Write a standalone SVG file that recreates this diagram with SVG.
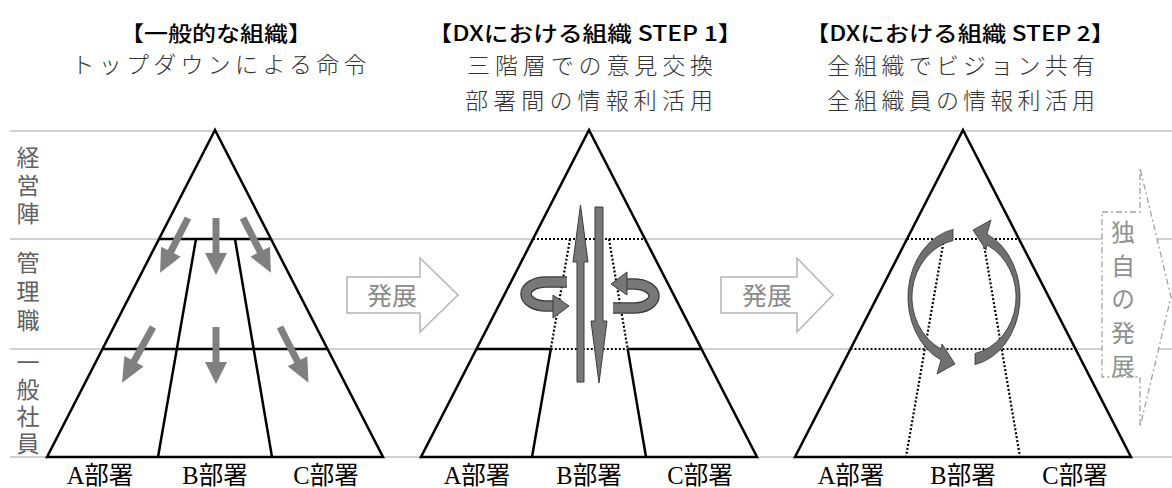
<svg xmlns="http://www.w3.org/2000/svg" xmlns:xlink="http://www.w3.org/1999/xlink" width="1172" height="488" viewBox="0 0 1172 488">
<style>
.grid{stroke:#c0c0c0;stroke-width:1.5;fill:none}
.tri{fill:#fff;stroke:#000;stroke-width:2.5;stroke-linejoin:miter}
.ln{stroke:#000;stroke-width:2.5;fill:none}
.dot{stroke:#000;stroke-width:2.2;stroke-dasharray:2 2;fill:none}
.garr{fill:#808080}
.darr{fill:#787878;stroke:#3a3a3a;stroke-width:1}
.title{font-family:"Noto Sans CJK JP","Noto Sans",sans-serif;font-size:21px;font-weight:500;fill:#000;text-anchor:middle}
.sub{font-family:"Noto Sans CJK JP",sans-serif;font-size:23px;font-weight:300;fill:#333;text-anchor:middle}
.side{font-family:"Noto Sans CJK JP",sans-serif;font-size:23px;fill:#606060;writing-mode:vertical-rl;text-anchor:start}
.dept{font-family:"Liberation Serif","Noto Sans CJK JP",serif;font-size:24.5px;fill:#000;text-anchor:middle}
.blk{fill:#fff;stroke:#b4b4b4;stroke-width:1.5}
.blkt{font-family:"Noto Sans CJK JP",sans-serif;font-size:25px;fill:#8a8a8a;text-anchor:middle}
.own{font-family:"Noto Sans CJK JP",sans-serif;font-size:24px;fill:#909090;writing-mode:vertical-rl;text-anchor:start}
.dash{fill:#fff;stroke:#a0a0a0;stroke-width:1.3;stroke-dasharray:6 3 2 3}
</style>
<defs>
<path id="dn" d="M-3.5,0 H3.5 V35 H11 L0,57 L-11,35 H-3.5 Z"/>
<g id="curl">
<path d="M567,282 L546,282 A20,12 0 0 0 546,306 L555,306" fill="none" stroke="#3a3a3a" stroke-width="11.5"/>
<path d="M567,282 L546,282 A20,12 0 0 0 546,306 L555,306" fill="none" stroke="#787878" stroke-width="9"/>
<polygon points="553,295 569,306 553,318" fill="#787878" stroke="#3a3a3a" stroke-width="1"/>
</g>
<path id="cres" d="M953,229.4 A56,69 0 0 0 941,360 L937,374 L955,364 L942,344 L941,349 A52.5,58 0 0 1 953,240.5 Z" fill="#707070" stroke="#303030" stroke-width="0.8"/>
</defs>

<g id="gridlines">
<line class="grid" x1="10" y1="131" x2="1172" y2="131"/>
<line class="grid" x1="10" y1="239" x2="1172" y2="239"/>
<line class="grid" x1="10" y1="349" x2="1172" y2="349"/>
<line class="grid" x1="10" y1="457" x2="1172" y2="457"/>
</g>

<g id="titles">
<text class="title" x="216" y="41" textLength="192" lengthAdjust="spacingAndGlyphs">【一般的な組織】</text>
<text class="sub" x="219" y="73" textLength="295">トップダウンによる命令</text>
<text class="title" x="585" y="41" textLength="315" lengthAdjust="spacingAndGlyphs">【DXにおける組織 STEP 1】</text>
<text class="sub" x="590" y="74" textLength="246">三階層での意見交換</text>
<text class="sub" x="589" y="109" textLength="248">部署間の情報利活用</text>
<text class="title" x="960" y="41" textLength="310" lengthAdjust="spacingAndGlyphs">【DXにおける組織 STEP 2】</text>
<text class="sub" x="961" y="74" textLength="268">全組織でビジョン共有</text>
<text class="sub" x="961" y="109" textLength="268">全組織員の情報利活用</text>
</g>

<g id="side-labels">
<text class="side" x="28" y="146" letter-spacing="5">経営陣</text>
<text class="side" x="28" y="251" letter-spacing="6">管理職</text>
<text class="side" x="28" y="351" letter-spacing="4">一般社員</text>
</g>

<g id="pyramid1">
<polygon class="tri" points="215,130 383,457 47,457"/>
<line class="ln" x1="159" y1="239" x2="271" y2="239"/>
<line class="ln" x1="102.5" y1="349" x2="327.5" y2="349"/>
<line class="ln" x1="196" y1="239" x2="158" y2="457"/>
<line class="ln" x1="235" y1="239" x2="272" y2="457"/>
<use xlink:href="#dn" class="garr" transform="translate(188,218) rotate(27) scale(1,1.08)"/>
<use xlink:href="#dn" class="garr" transform="translate(216,218)"/>
<use xlink:href="#dn" class="garr" transform="translate(243,218) rotate(-27) scale(1,1.08)"/>
<use xlink:href="#dn" class="garr" transform="translate(153,327) rotate(29) scale(1,1.12)"/>
<use xlink:href="#dn" class="garr" transform="translate(216,327)"/>
<use xlink:href="#dn" class="garr" transform="translate(280,327) rotate(-27) scale(1,1.1)"/>
<text class="dept" x="100" y="484">A部署</text>
<text class="dept" x="215" y="484">B部署</text>
<text class="dept" x="326" y="484">C部署</text>
</g>

<g id="arrow-develop1">
<polygon class="blk" points="347,277 420,277 420,258 458,295 420,332 420,313 347,313"/>
<text class="blkt" x="392" y="305">発展</text>
</g>

<g id="pyramid2">
<polygon class="tri" points="589,130 757,457 421,457"/>
<line class="dot" x1="533" y1="239" x2="645" y2="239"/>
<line class="ln" x1="476.5" y1="349" x2="550.8" y2="349"/>
<line class="dot" x1="550.8" y1="349" x2="627.7" y2="349"/>
<line class="ln" x1="627.7" y1="349" x2="701.5" y2="349"/>
<line class="dot" x1="570" y1="239" x2="550.8" y2="349"/>
<line class="dot" x1="609" y1="239" x2="627.7" y2="349"/>
<line class="ln" x1="550.8" y1="349" x2="532" y2="457"/>
<line class="ln" x1="627.7" y1="349" x2="646" y2="457"/>
<polygon class="darr" points="577,382 584,382 584,262 588,262 580.5,205 573,262 577,262"/>
<polygon class="darr" points="595,207 603,207 603,321 607,321 599,383 591,321 595,321"/>
<use xlink:href="#curl"/>
<use xlink:href="#curl" transform="rotate(180 590 295)"/>
<text class="dept" x="477" y="484">A部署</text>
<text class="dept" x="589" y="484">B部署</text>
<text class="dept" x="700" y="484">C部署</text>
</g>

<g id="arrow-develop2">
<polygon class="blk" points="721,277 797,277 797,258 833,295 797,332 797,313 721,313"/>
<text class="blkt" x="767" y="305">発展</text>
</g>

<g id="pyramid3">
<polygon class="tri" points="963,130 1131,457 795,457"/>
<line class="dot" x1="907" y1="239" x2="1019" y2="239"/>
<line class="dot" x1="850.5" y1="349" x2="1075.5" y2="349"/>
<line class="dot" x1="944" y1="239" x2="906" y2="457"/>
<line class="dot" x1="983" y1="239" x2="1020" y2="457"/>
<use xlink:href="#cres"/>
<use xlink:href="#cres" transform="rotate(180 964 297)"/>
<text class="dept" x="851" y="484">A部署</text>
<text class="dept" x="963" y="484">B部署</text>
<text class="dept" x="1075" y="484">C部署</text>
</g>

<g id="arrow-own">
<polygon class="dash" points="1102,212 1140,212 1140,168 1171,297 1140,427 1140,377 1102,377"/>
<text class="own" x="1123" y="220" letter-spacing="9.5">独自の発展</text>
</g>
</svg>
